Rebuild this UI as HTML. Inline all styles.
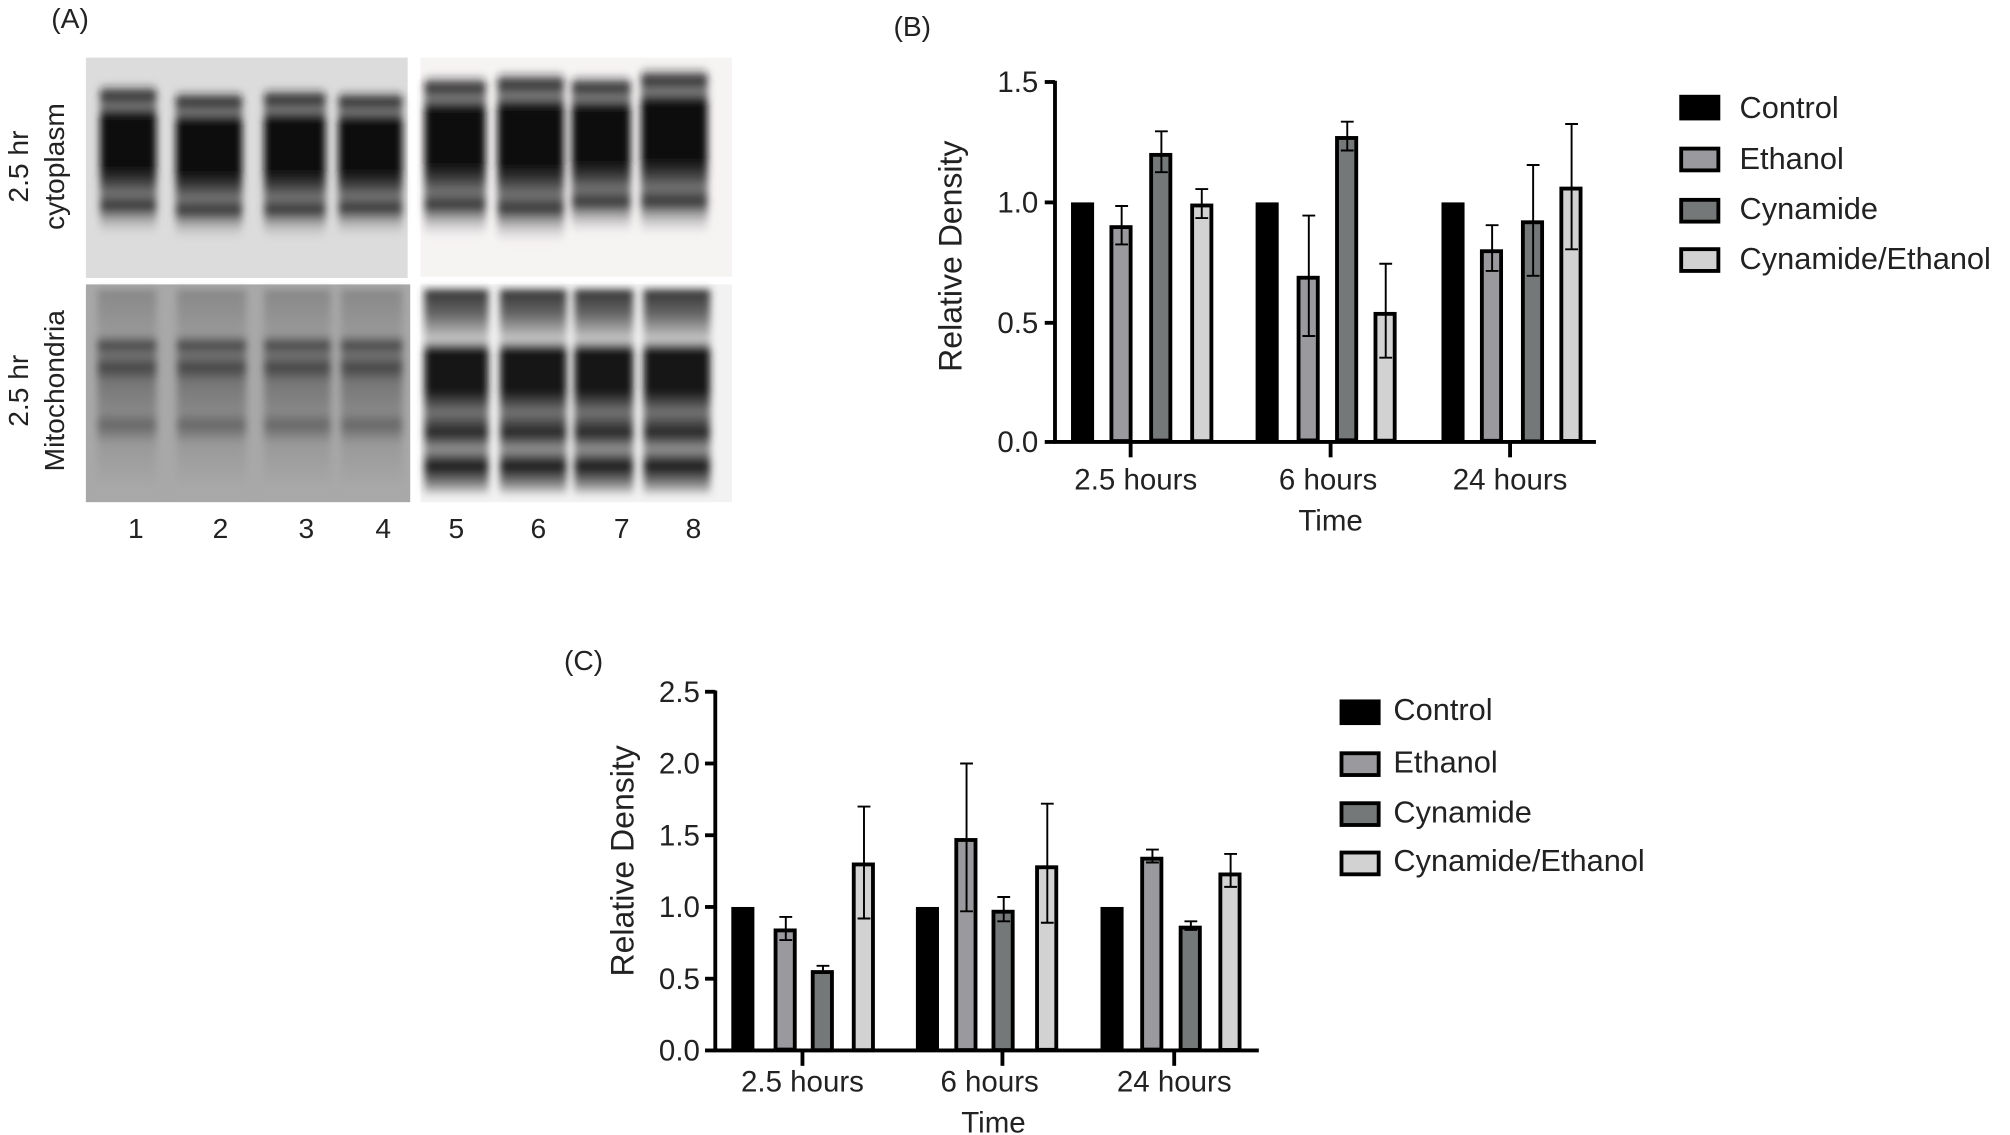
<!DOCTYPE html>
<html><head><meta charset="utf-8"><style>
html,body{margin:0;padding:0;background:#fff;}
svg{display:block;}
text{font-family:"Liberation Sans",sans-serif;fill:#222;}
</style></head><body>
<svg width="2010" height="1135" viewBox="0 0 1568 886" preserveAspectRatio="none" xmlns="http://www.w3.org/2000/svg">
<defs>
<filter id="bl" x="-20%" y="-20%" width="140%" height="140%"><feGaussianBlur stdDeviation="3"/></filter>
<linearGradient id="cyt" x1="0" y1="0" x2="0" y2="1">
<stop offset="0" stop-color="#222" stop-opacity="0"/>
<stop offset="0.08" stop-color="#111" stop-opacity="0.9"/>
<stop offset="0.15" stop-color="#666" stop-opacity="0.8"/>
<stop offset="0.22" stop-color="#0a0a0a"/>
<stop offset="0.55" stop-color="#111"/>
<stop offset="0.62" stop-color="#333"/>
<stop offset="0.72" stop-color="#777"/>
<stop offset="0.8" stop-color="#333"/>
<stop offset="0.9" stop-color="#999" stop-opacity="0.6"/>
<stop offset="1" stop-color="#ccc" stop-opacity="0"/>
</linearGradient>
<linearGradient id="mitL" x1="0" y1="0" x2="0" y2="1">
<stop offset="0" stop-color="#888"/>
<stop offset="0.22" stop-color="#999"/>
<stop offset="0.27" stop-color="#444"/>
<stop offset="0.32" stop-color="#777"/>
<stop offset="0.38" stop-color="#444"/>
<stop offset="0.45" stop-color="#777"/>
<stop offset="0.6" stop-color="#888"/>
<stop offset="0.66" stop-color="#666"/>
<stop offset="0.75" stop-color="#999"/>
<stop offset="1" stop-color="#aaa"/>
</linearGradient>
<linearGradient id="mitR" x1="0" y1="0" x2="0" y2="1">
<stop offset="0" stop-color="#333"/>
<stop offset="0.12" stop-color="#666"/>
<stop offset="0.25" stop-color="#ccc"/>
<stop offset="0.3" stop-color="#111"/>
<stop offset="0.5" stop-color="#1a1a1a"/>
<stop offset="0.6" stop-color="#777"/>
<stop offset="0.7" stop-color="#222"/>
<stop offset="0.78" stop-color="#999"/>
<stop offset="0.86" stop-color="#111"/>
<stop offset="0.95" stop-color="#888"/>
<stop offset="1" stop-color="#ddd"/>
</linearGradient>
</defs>

<!-- Panel A -->
<text x="40" y="22" font-size="22">(A)</text>
<rect x="67" y="45" width="251" height="172" fill="#dcdcdc"/>
<rect x="328" y="45" width="243" height="171" fill="#f6f3f3"/>
<rect x="67" y="222" width="253" height="170" fill="#a8a8a8"/>
<rect x="328" y="222" width="243" height="170" fill="#f2f2f2"/>
<g filter="url(#bl)">
<rect x="78" y="65" width="44" height="120" rx="6" fill="url(#cyt)"/>
<rect x="137" y="70" width="52" height="118" rx="6" fill="url(#cyt)"/>
<rect x="206" y="68" width="48" height="120" rx="6" fill="url(#cyt)"/>
<rect x="264" y="70" width="50" height="116" rx="6" fill="url(#cyt)"/>
<rect x="331" y="58" width="48" height="128" rx="6" fill="url(#cyt)"/>
<rect x="388" y="55" width="52" height="135" rx="6" fill="url(#cyt)"/>
<rect x="446" y="58" width="46" height="125" rx="6" fill="url(#cyt)"/>
<rect x="500" y="52" width="52" height="132" rx="6" fill="url(#cyt)"/>
<rect x="76" y="226" width="46" height="160" fill="url(#mitL)"/>
<rect x="138" y="226" width="54" height="160" fill="url(#mitL)"/>
<rect x="206" y="226" width="52" height="160" fill="url(#mitL)"/>
<rect x="266" y="226" width="48" height="160" fill="url(#mitL)"/>
<rect x="331" y="226" width="50" height="160" fill="url(#mitR)"/>
<rect x="390" y="226" width="52" height="160" fill="url(#mitR)"/>
<rect x="448" y="226" width="46" height="160" fill="url(#mitR)"/>
<rect x="502" y="226" width="52" height="160" fill="url(#mitR)"/>
</g>
<g font-size="22" text-anchor="middle">
<text x="106" y="420">1</text><text x="172" y="420">2</text><text x="239" y="420">3</text><text x="299" y="420">4</text>
<text x="356" y="420">5</text><text x="420" y="420">6</text><text x="485" y="420">7</text><text x="541" y="420">8</text>
<text transform="translate(22,130) rotate(-90)">2.5 hr</text>
<text transform="translate(50,130) rotate(-90)">cytoplasm</text>
<text transform="translate(22,305) rotate(-90)">2.5 hr</text>
<text transform="translate(50,305) rotate(-90)">Mitochondria</text>
</g>

<!-- Panel B -->
<text x="697" y="28" font-size="22">(B)</text>
<g stroke="#000" stroke-width="3">
<line x1="823" y1="63" x2="823" y2="346"/>
<line x1="822" y1="345" x2="1245" y2="345"/>
<line x1="815" y1="64" x2="823" y2="64"/><line x1="815" y1="158" x2="823" y2="158"/><line x1="815" y1="252" x2="823" y2="252"/><line x1="815" y1="345" x2="823" y2="345"/>
<line x1="882" y1="345" x2="882" y2="357"/><line x1="1038" y1="345" x2="1038" y2="357"/><line x1="1178" y1="345" x2="1178" y2="357"/>
</g>
<g font-size="23" text-anchor="end">
<text x="810" y="72">1.5</text><text x="810" y="166">1.0</text><text x="810" y="260">0.5</text><text x="810" y="353">0.0</text>
</g>
<g font-size="23" text-anchor="middle">
<text x="886" y="382">2.5 hours</text><text x="1036" y="382">6 hours</text><text x="1178" y="382">24 hours</text>
<text x="1038" y="414">Time</text>
<text transform="translate(750,200) rotate(-90)" font-size="25">Relative Density</text>
</g>
<g stroke="#000" stroke-width="3">
<rect x="837" y="159.5" width="15" height="185" fill="#000"/>
<rect x="867" y="177.3" width="15" height="167" fill="#9a9a9e"/>
<rect x="898" y="120.9" width="15" height="223" fill="#757878"/>
<rect x="930" y="160.4" width="15" height="184" fill="#d2d2d2"/>
<rect x="981" y="159.5" width="15" height="185" fill="#000"/>
<rect x="1013" y="216.8" width="15" height="127" fill="#9a9a9e"/>
<rect x="1043" y="107.7" width="15" height="236" fill="#757878"/>
<rect x="1073" y="245" width="15" height="99" fill="#d2d2d2"/>
<rect x="1126" y="159.5" width="15" height="185" fill="#000"/>
<rect x="1156" y="196.1" width="15" height="148" fill="#9a9a9e"/>
<rect x="1188" y="173.5" width="15" height="171" fill="#757878"/>
<rect x="1218" y="147.2" width="15" height="197" fill="#d2d2d2"/>
</g>
<g stroke="#000" stroke-width="1.5" fill="none">
<path d="M875 190.8V160.8M870 190.8h10M870 160.8h10"/>
<path d="M906 134.4V102.5M901 134.4h10M901 102.5h10"/>
<path d="M937.5 170.2V147.6M932.5 170.2h10M932.5 147.6h10"/>
<path d="M1021 262.3V168.3M1016 262.3h10M1016 168.3h10"/>
<path d="M1051 117.5V95M1046 117.5h10M1046 95h10"/>
<path d="M1081 279.2V205.9M1076 279.2h10M1076 205.9h10"/>
<path d="M1164 211.5V175.8M1159 211.5h10M1159 175.8h10"/>
<path d="M1196 215.3V128.8M1191 215.3h10M1191 128.8h10"/>
<path d="M1226 194.6V96.8M1221 194.6h10M1221 96.8h10"/>
</g>
<g stroke="#000" stroke-width="3">
<rect x="1311.5" y="75.5" width="29" height="17" fill="#000"/>
<rect x="1311.5" y="116" width="29" height="17" fill="#9a9a9e"/>
<rect x="1311.5" y="156" width="29" height="17" fill="#757878"/>
<rect x="1311.5" y="194.5" width="29" height="17" fill="#d2d2d2"/>
</g>
<g font-size="24">
<text x="1357" y="92">Control</text><text x="1357" y="132">Ethanol</text><text x="1357" y="171">Cynamide</text><text x="1357" y="210">Cynamide/Ethanol</text>
</g>

<!-- Panel C -->
<text x="440" y="523" font-size="22">(C)</text>
<g stroke="#000" stroke-width="3">
<line x1="558" y1="539" x2="558" y2="821"/>
<line x1="557" y1="820" x2="982" y2="820"/>
<line x1="550" y1="540" x2="558" y2="540"/><line x1="550" y1="596" x2="558" y2="596"/><line x1="550" y1="652" x2="558" y2="652"/><line x1="550" y1="708" x2="558" y2="708"/><line x1="550" y1="764" x2="558" y2="764"/><line x1="550" y1="820" x2="558" y2="820"/>
<line x1="626" y1="820" x2="626" y2="832"/><line x1="782" y1="820" x2="782" y2="832"/><line x1="916" y1="820" x2="916" y2="832"/>
</g>
<g font-size="23" text-anchor="end">
<text x="546" y="548">2.5</text><text x="546" y="604">2.0</text><text x="546" y="660">1.5</text><text x="546" y="716">1.0</text><text x="546" y="772">0.5</text><text x="546" y="828">0.0</text>
</g>
<g font-size="23" text-anchor="middle">
<text x="626" y="852">2.5 hours</text><text x="772" y="852">6 hours</text><text x="916" y="852">24 hours</text>
<text x="775" y="884">Time</text>
<text transform="translate(494,672) rotate(-90)" font-size="25">Relative Density</text>
</g>
<g stroke="#000" stroke-width="3">
<rect x="572" y="709.5" width="15" height="110" fill="#000"/>
<rect x="605" y="726.3" width="15" height="93" fill="#9a9a9e"/>
<rect x="634" y="758.8" width="15" height="61" fill="#757878"/>
<rect x="666" y="674.8" width="15" height="145" fill="#d2d2d2"/>
<rect x="716" y="709.5" width="15" height="110" fill="#000"/>
<rect x="746" y="655.7" width="15" height="164" fill="#9a9a9e"/>
<rect x="775" y="711.7" width="15" height="108" fill="#757878"/>
<rect x="809" y="677" width="15" height="142.5" fill="#d2d2d2"/>
<rect x="860" y="709.5" width="15" height="110" fill="#000"/>
<rect x="891" y="670.3" width="15" height="149" fill="#9a9a9e"/>
<rect x="921" y="724.1" width="15" height="95.5" fill="#757878"/>
<rect x="952" y="682.6" width="15" height="137" fill="#d2d2d2"/>
</g>
<g stroke="#000" stroke-width="1.5" fill="none">
<path d="M613 733.8V715.8M608 733.8h10M608 715.8h10"/>
<path d="M642 759.5V753.9M637 759.5h10M637 753.9h10"/>
<path d="M674 717V629.6M669 717h10M669 629.6h10"/>
<path d="M754 711.4V596M749 711.4h10M749 596h10"/>
<path d="M783 719.2V700.2M778 719.2h10M778 700.2h10"/>
<path d="M817 720.3V627.4M812 720.3h10M812 627.4h10"/>
<path d="M899 673.3V663.2M894 673.3h10M894 663.2h10"/>
<path d="M929 725.9V719.2M924 725.9h10M924 719.2h10"/>
<path d="M960 692.3V666.6M955 692.3h10M955 666.6h10"/>
</g>
<g stroke="#000" stroke-width="3">
<rect x="1046.5" y="547.5" width="29" height="17" fill="#000"/>
<rect x="1046.5" y="588" width="29" height="17" fill="#9a9a9e"/>
<rect x="1046.5" y="627" width="29" height="17" fill="#757878"/>
<rect x="1046.5" y="665.5" width="29" height="17" fill="#d2d2d2"/>
</g>
<g font-size="24">
<text x="1087" y="562">Control</text><text x="1087" y="603">Ethanol</text><text x="1087" y="642">Cynamide</text><text x="1087" y="680">Cynamide/Ethanol</text>
</g>
</svg>
</body></html>
